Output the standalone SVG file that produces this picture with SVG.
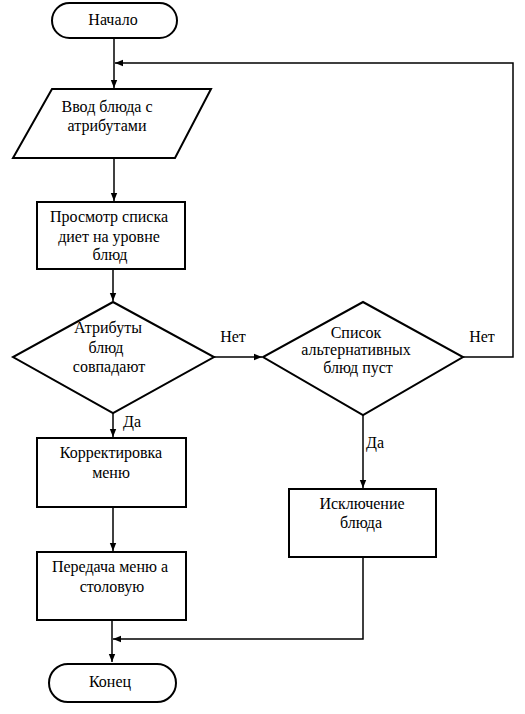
<svg xmlns="http://www.w3.org/2000/svg" width="525" height="714" viewBox="0 0 525 714">
<style>
.s{fill:#fff;stroke:#000;stroke-width:2}
.c{fill:none;stroke:#000;stroke-width:1.5}
</style>
<defs>
<marker id="a" viewBox="0 0 10 10" refX="10" refY="5" markerWidth="8" markerHeight="8" markerUnits="userSpaceOnUse" orient="auto">
<path d="M0,1 L10,5 L0,9 z" fill="#000"/>
</marker>
</defs>
<g id="connectors">
<path class="c" d="M114,39 V88" marker-end="url(#a)"/>
<path class="c" d="M463,357 H513 V63 H115" marker-end="url(#a)"/>
<path class="c" d="M114,158 V201" marker-end="url(#a)"/>
<path class="c" d="M113,269 V301" marker-end="url(#a)"/>
<path class="c" d="M214,357 H262" marker-end="url(#a)"/>
<path class="c" d="M113,413 V437" marker-end="url(#a)"/>
<path class="c" d="M363,415 V488" marker-end="url(#a)"/>
<path class="c" d="M113,507 V551" marker-end="url(#a)"/>
<path class="c" d="M112,620 V662" marker-end="url(#a)"/>
<path class="c" d="M363,557 V639 H113" marker-end="url(#a)"/>
<g font-family="Liberation Serif" font-size="16" text-anchor="middle" fill="#000">
<text x="233" y="342">Нет</text>
<text x="482" y="342">Нет</text>
<text x="132" y="427">Да</text>
<text x="375" y="448">Да</text>
</g>
</g>
<g font-family="Liberation Serif" font-size="16" text-anchor="middle" fill="#000">
<g id="start">
<rect class="s" x="52" y="3" width="125" height="35" rx="17.5"/>
<text x="113" y="25">Начало</text>
</g>
<g id="input">
<polygon class="s" points="52,89 211,89 175,158 13,158"/>
<text x="107" y="112">Ввод блюда с</text>
<text x="107" y="131">атрибутами</text>
</g>
<g id="view">
<rect class="s" x="37" y="202" width="148" height="67"/>
<text x="109" y="222">Просмотр списка</text>
<text x="109" y="242">диет на уровне</text>
<text x="110" y="260">блюд</text>
</g>
<g id="dec1">
<polygon class="s" points="113,302 214,357 113,413 13,357"/>
<text x="108" y="333">Атрибуты</text>
<text x="106" y="353">блюд</text>
<text x="109" y="372">совпадают</text>
</g>
<g id="dec2">
<polygon class="s" points="363,302 463,357 363,415 263,357"/>
<text x="356" y="338">Список</text>
<text x="356" y="355">альтернативных</text>
<text x="358" y="373">блюд пуст</text>
</g>
<g id="correct">
<rect class="s" x="37" y="438" width="149" height="69"/>
<text x="111" y="458">Корректировка</text>
<text x="111" y="478">меню</text>
</g>
<g id="exclude">
<rect class="s" x="289" y="489" width="147" height="68"/>
<text x="362" y="509">Исключение</text>
<text x="361" y="528">блюда</text>
</g>
<g id="send">
<rect class="s" x="37" y="552" width="149" height="68"/>
<text x="110" y="572">Передача меню а</text>
<text x="112" y="592">столовую</text>
</g>
<g id="end">
<rect class="s" x="49" y="664" width="127" height="38" rx="19"/>
<text x="110" y="687">Конец</text>
</g>
</g>
</svg>
